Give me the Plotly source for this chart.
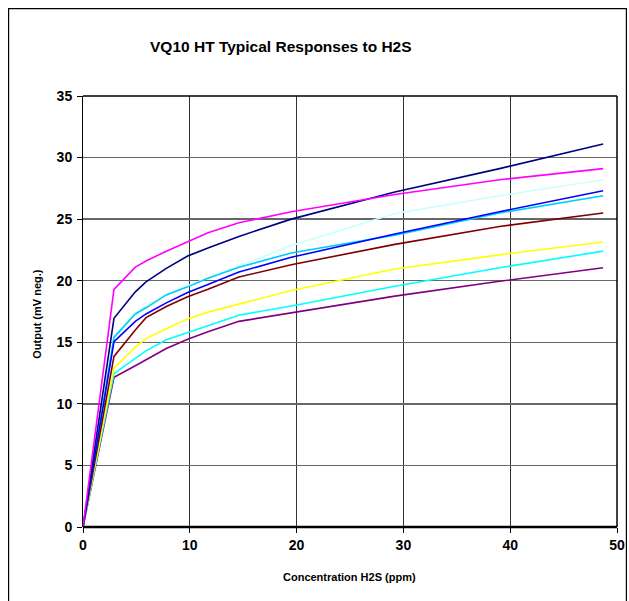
import plotly.graph_objects as go

# Concentration H2S (ppm)
conc = [0, 2.9, 4.9, 5.9, 7.8, 9.8, 11.7, 14.6, 19.5, 29.2, 39.0, 48.7]

# Output (mV neg.) for each sensor
s_magenta = [0, 19.3, 21.1, 21.6, 22.4, 23.2, 23.9, 24.7, 25.6, 27.0, 28.2, 29.1]
s_navy = [0, 16.95, 19.1, 19.9, 21.0, 22.0, 22.65, 23.6, 25.0, 27.2, 29.1, 31.1]
s_lightcyan = [0, 15.5, 17.4, 17.9, 18.9, 19.6, 20.25, 21.2, 22.85, 25.45, 26.9, 28.2]
s_blue = [0, 15.05, 16.7, 17.3, 18.2, 19.05, 19.7, 20.7, 21.9, 23.8, 25.6, 27.3]
s_skyblue = [0, 15.4, 17.3, 17.8, 18.85, 19.5, 20.2, 21.1, 22.25, 23.7, 25.5, 26.9]
s_brown = [0, 13.85, 16.0, 17.0, 17.9, 18.7, 19.3, 20.3, 21.3, 22.95, 24.4, 25.5]
s_yellow = [0, 12.9, 14.6, 15.3, 16.1, 16.9, 17.45, 18.1, 19.2, 20.95, 22.1, 23.15]
s_cyan = [0, 12.45, 13.7, 14.3, 15.2, 15.8, 16.35, 17.2, 17.95, 19.55, 21.05, 22.4]
s_purple = [0, 12.15, 13.1, 13.6, 14.5, 15.25, 15.85, 16.7, 17.4, 18.75, 19.95, 21.05]

x_ticks = [0, 10, 20, 30, 40, 50]
y_ticks = [0, 5, 10, 15, 20, 25, 30, 35]

series = [
    (s_lightcyan, "#CCFFFF"),
    (s_purple, "#800080"),
    (s_cyan, "#00FFFF"),
    (s_yellow, "#FFFF00"),
    (s_brown, "#800000"),
    (s_skyblue, "#00CCFF"),
    (s_blue, "#0000FF"),
    (s_navy, "#000080"),
    (s_magenta, "#FF00FF"),
]

FONT = "Liberation Sans, Arial, sans-serif"

fig = go.Figure()
for ys, col in series:
    fig.add_trace(go.Scatter(x=conc, y=ys, mode="lines",
                             line=dict(color=col, width=1.6),
                             showlegend=False, hoverinfo="skip"))

fig.update_layout(
    width=629, height=601,
    margin=dict(l=83, r=12, t=96, b=73.5),
    paper_bgcolor="white", plot_bgcolor="white",
    font=dict(family=FONT, color="black"),
    hovermode=False, dragmode=False,
)

fig.update_xaxes(
    range=[0, 50], tickvals=x_ticks, ticktext=[f"<b>{t}</b>" for t in x_ticks],
    tickfont=dict(size=14, family=FONT, color="black"),
    showgrid=True, gridcolor="#333333", gridwidth=1,
    showline=False,
    ticks="outside", ticklen=5, tickcolor="black", tickwidth=1,
    zeroline=False, automargin=False, fixedrange=True,
)
fig.update_yaxes(
    range=[0, 35], tickvals=y_ticks, ticktext=[f"<b>{t}</b>" for t in y_ticks],
    tickfont=dict(size=14, family=FONT, color="black"),
    showgrid=True, gridcolor="#666666", gridwidth=1.5,
    showline=True, linecolor="black", linewidth=1, mirror=False,
    ticks="outside", ticklen=5, tickcolor="black", tickwidth=1,
    zeroline=False, automargin=False, ticklabelstandoff=2, fixedrange=True,
)

# plot area border (bottom axis line, top, right)
fig.add_shape(type="line", xref="paper", yref="paper", x0=0, x1=1, y0=0, y1=0,
              line=dict(color="black", width=2.5))
fig.add_shape(type="line", xref="paper", yref="paper", x0=0, x1=1, y0=1, y1=1,
              line=dict(color="black", width=1.5))
fig.add_shape(type="line", xref="paper", yref="paper", x0=1, x1=1, y0=0, y1=1,
              line=dict(color="black", width=1.5))

# chart area border (page coordinates converted to paper fractions)
pw, ph = 534.0, 431.5
def px(v):
    return (v - 83) / pw
def py(v):
    return (527.5 - v) / ph
fig.add_shape(type="rect", xref="paper", yref="paper",
              x0=px(8.6), x1=px(626.4), y0=py(620), y1=py(8.6),
              line=dict(color="black", width=1.2), fillcolor="rgba(0,0,0,0)", layer="below")

fig.add_annotation(text="<b>VQ10 HT Typical Responses to H2S</b>",
                   xref="paper", yref="paper", x=px(281), y=py(46),
                   showarrow=False, font=dict(size=15.5, family=FONT, color="black"),
                   xanchor="center", yanchor="middle")
fig.add_annotation(text="<b>Concentration H2S (ppm)</b>",
                   xref="paper", yref="paper", x=px(349), y=py(578),
                   showarrow=False, font=dict(size=11, family=FONT, color="black"),
                   xanchor="center", yanchor="middle")
fig.add_annotation(text="<b>Output (mV neg.)</b>", textangle=-90,
                   xref="paper", yref="paper", x=px(37), y=py(314),
                   showarrow=False, font=dict(size=11, family=FONT, color="black"),
                   xanchor="center", yanchor="middle")

fig.write_html("out.html", config={"displayModeBar": False, "staticPlot": True},
               post_script="document.body.style.margin='0';document.body.style.overflow='hidden';")
